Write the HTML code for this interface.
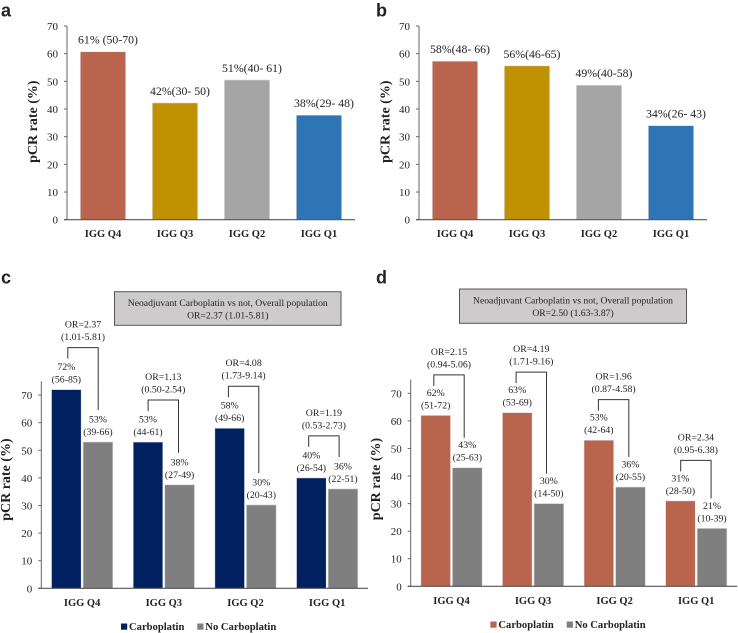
<!DOCTYPE html>
<html lang="en">
<head>
<meta charset="utf-8">
<title>pCR rate by IGG quartile</title>
<style>
html,body{margin:0;padding:0;background:#fff;}
#figure{display:block;width:738px;height:633px;}
text{font-family:"Liberation Serif",serif;fill:#222;}
</style>
</head>
<body>
<svg id="figure" xmlns="http://www.w3.org/2000/svg" width="738" height="633" viewBox="0 0 738 633"></svg>
<script>
const categories = ['IGG Q4', 'IGG Q3', 'IGG Q2', 'IGG Q1'];
const ticksAB = [0, 10, 20, 30, 40, 50, 60, 70];
const valuesA = [60.7, 42.2, 50.5, 37.8];
const labelsA = ['61% (50-70)', '42%(30- 50)', '51%(40- 61)', '38%(29- 48)'];
const valuesB = [57.3, 55.6, 48.6, 34];
const labelsB = ['58%(48- 66)', '56%(46-65)', '49%(40-58)', '34%(26- 43)'];
const colorsSingle = ['#b9654e', '#bf9000', '#a5a5a5', '#2e75b6'];
const carboC = [72, 53, 58, 40];
const noCarboC = [53, 37.5, 30.2, 36];
const carboPctC = ['72%', '53%', '58%', '40%'];
const carboCiC = ['(56-85)', '(44-61)', '(49-66)', '(26-54)'];
const noCarboPctC = ['53%', '38%', '30%', '36%'];
const noCarboCiC = ['(39-66)', '(27-49)', '(20-43)', '(22-51)'];
const orC = ['OR=2.37', 'OR=1.13', 'OR=4.08', 'OR=1.19'];
const orCiC = ['(1.01-5.81)', '(0.50-2.54)', '(1.73-9.14)', '(0.53-2.73)'];
const carboD = [62, 63, 53, 31];
const noCarboD = [43, 30, 36, 21];
const carboPctD = ['62%', '63%', '53%', '31%'];
const carboCiD = ['(51-72)', '(53-69)', '(42-64)', '(28-50)'];
const noCarboPctD = ['43%', '30%', '36%', '21%'];
const noCarboCiD = ['(25-63)', '(14-50)', '(20-55)', '(10-39)'];
const orD = ['OR=2.15', 'OR=4.19', 'OR=1.96', 'OR=2.34'];
const orCiD = ['(0.94-5.06)', '(1.71-9.16)', '(0.87-4.58)', '(0.95-6.38)'];
const ticksCD = [0, 10, 20, 30, 40, 50, 60, 70];

const SVG_NS = 'http://www.w3.org/2000/svg';
const root = document.getElementById('figure');

function make(tag, attrs, name, parent) {
  const el = document.createElementNS(SVG_NS, tag);
  for (const k in attrs) el.setAttribute(k, attrs[k]);
  
  
  (parent || root).appendChild(el);
  return el;
}
function label(str, x, y, size, opts, name, parent) {
  const o = opts || {};
  const el = make('text', {
    x: x, y: y,
    'font-size': size,
    'text-anchor': o.anchor || 'middle',
    'font-weight': o.weight || 'normal'
  }, name, parent);
  if (o.rotate) el.setAttribute('transform', 'rotate(-90 ' + x + ' ' + y + ')');
  if (o.family) el.setAttribute('style', 'font-family:' + o.family);
  el.textContent = str;
  return el;
}

function frame(p) {
  const g = make('g', {}, 'panel-' + p.id);
  const y = v => p.y0 - v * p.unit;
  const band = (p.x1 - p.x0) / categories.length;
  const cx = i => p.x0 + band * (i + 0.5);
  label(p.id, p.letterX, p.letterY, 18, {anchor: 'start', weight: 'bold', family: '"Liberation Sans",sans-serif'}, 'panel-letter-' + p.id, g);
  make('line', {x1: p.x0, x2: p.x0, y1: y(p.yMax), y2: p.y0, stroke: '#666', 'stroke-width': 1}, 'y-axis-line', g);
  p.ticks.forEach(t => {
    make('line', {x1: p.x0 - 3, x2: p.x0, y1: y(t), y2: y(t), stroke: '#666', 'stroke-width': 1}, 'y-tick', g);
    label(String(t), p.x0 - 9, y(t) + 4, 11, {anchor: 'end'}, 'y-tick-label', g);
  });
  label('pCR rate (%)', p.titleX, p.titleY, 14, {weight: 'bold', rotate: true}, 'y-axis-title', g);
  categories.forEach((c, i) => {
    label(c, cx(i), p.catY, 10.5, {weight: 'bold'}, 'x-tick-label', g);
  });
  return {g: g, y: y, cx: cx};
}
function finishAxis(p, f) {
  make('line', {x1: p.x0 - 3, x2: p.x1, y1: p.y0, y2: p.y0, stroke: '#555', 'stroke-width': 1.2}, 'x-axis-line', f.g);
}

function singlePanel(p, values, labels) {
  const f = frame(p);
  values.forEach((v, i) => {
    make('rect', {x: f.cx(i) - 22.7, y: f.y(v), width: 45.4, height: v * p.unit, fill: colorsSingle[i], stroke: '#e9e3df', 'stroke-width': 0.6}, 'bar-' + categories[i].toLowerCase().replace(' ', '-'), f.g);
    label(labels[i], f.cx(i) + 5, f.y(v) - 8, 11.8, {}, 'bar-value-label', f.g);
  });
  finishAxis(p, f);
}

function pairedPanel(p, d) {
  const f = frame(p);
  const w = 29.7, off = 15.8;
  categories.forEach((c, i) => {
    const a = d.carbo[i], b = d.noCarbo[i];
    const xa = f.cx(i) - off, xb = f.cx(i) + off;
    make('rect', {x: xa - w / 2, y: f.y(a), width: w, height: a * p.unit, fill: p.color, stroke: '#e8e8ec', 'stroke-width': 0.6}, 'bar-carboplatin', f.g);
    make('rect', {x: xb - w / 2, y: f.y(b), width: w, height: b * p.unit, fill: '#7f7f7f', stroke: '#d8d8d8', 'stroke-width': 0.6}, 'bar-no-carboplatin', f.g);
    label(d.carboPct[i], xa, f.y(a) - 19.5, 9.8, {}, 'carboplatin-percent-label', f.g);
    label(d.carboCi[i], xa, f.y(a) - 7, 9.8, {}, 'carboplatin-ci-label', f.g);
    label(d.noCarboPct[i], xb, f.y(b) - 19.5, 9.8, {}, 'no-carboplatin-percent-label', f.g);
    label(d.noCarboCi[i], xb, f.y(b) - 7, 9.8, {}, 'no-carboplatin-ci-label', f.g);
    const bc = p.bracketStart + i * p.bracketStep;
    const top = f.y(a) - p.bracketTop;
    const pts = [[bc - 15.2, f.y(a) - p.bracketLeft], [bc - 15.2, top], [bc + 15.2, top], [bc + 15.2, f.y(b) - p.bracketRight]];
    make('polyline', {points: pts.map(q => q.join(',')).join(' '), fill: 'none', stroke: '#333', 'stroke-width': 1}, 'odds-ratio-bracket', f.g);
    label(d.or[i], bc, top - 20, 9.8, {}, 'odds-ratio-label', f.g);
    label(d.orCi[i], bc, top - 7.5, 9.8, {}, 'odds-ratio-ci-label', f.g);
  });
  finishAxis(p, f);
  make('rect', {x: p.boxX, y: p.boxY, width: p.boxW, height: p.boxH, fill: '#cdcbcb', stroke: '#555', 'stroke-width': 1}, 'overall-population-box', f.g);
  label('Neoadjuvant Carboplatin vs not, Overall population', p.boxX + p.boxW / 2, p.boxY + 14.5, 9.65, {}, 'overall-box-title', f.g);
  label(d.overall, p.boxX + p.boxW / 2, p.boxY + 27, 9.65, {}, 'overall-box-odds-ratio', f.g);
  make('rect', {x: p.legX1, y: p.legY - 6.5, width: 6.2, height: 6.2, fill: p.color}, 'legend-swatch-carboplatin', f.g);
  label('Carboplatin', p.legX1 + 8, p.legY, 10.6, {anchor: 'start', weight: 'bold'}, 'legend-label-carboplatin', f.g);
  make('rect', {x: p.legX2, y: p.legY - 6.5, width: 6.2, height: 6.2, fill: '#7f7f7f'}, 'legend-swatch-no-carboplatin', f.g);
  label('No Carboplatin', p.legX2 + 8, p.legY, 10.6, {anchor: 'start', weight: 'bold'}, 'legend-label-no-carboplatin', f.g);
}

singlePanel({id: 'a', x0: 67, x1: 355, y0: 219.7, unit: 2.767, yMax: 70, ticks: ticksAB, letterX: 1, letterY: 16.7, titleX: 37, titleY: 121.7, catY: 237}, valuesA, labelsA);
singlePanel({id: 'b', x0: 419, x1: 707, y0: 219.7, unit: 2.767, yMax: 70, ticks: ticksAB, letterX: 376, letterY: 16.7, titleX: 389.7, titleY: 121.7, catY: 237}, valuesB, labelsB);
pairedPanel({id: 'c', x0: 41.3, x1: 368, y0: 588.3, unit: 2.76, yMax: 75, ticks: ticksCD, letterX: 1, letterY: 283.3, titleX: 10, titleY: 479.6, catY: 606, color: '#002060', bracketStart: 83, bracketStep: 80.3, bracketTop: 42, bracketLeft: 31, bracketRight: 32, boxX: 114.5, boxY: 291.7, boxW: 226.5, boxH: 33.6, legX1: 121, legX2: 197.3, legY: 630},
  {carbo: carboC, noCarbo: noCarboC, carboPct: carboPctC, carboCi: carboCiC, noCarboPct: noCarboPctC, noCarboCi: noCarboCiC, or: orC, orCi: orCiC, overall: 'OR=2.37 (1.01-5.81)'});
pairedPanel({id: 'd', x0: 410.7, x1: 737, y0: 586.3, unit: 2.757, yMax: 75, ticks: ticksCD, letterX: 376, letterY: 283.3, titleX: 380, titleY: 479, catY: 604, color: '#b9654e', bracketStart: 449, bracketStep: 82.3, bracketTop: 40.5, bracketLeft: 29.5, bracketRight: 30, boxX: 459.5, boxY: 289, boxW: 227, boxH: 34.3, legX1: 490.4, legX2: 566.7, legY: 628},
  {carbo: carboD, noCarbo: noCarboD, carboPct: carboPctD, carboCi: carboCiD, noCarboPct: noCarboPctD, noCarboCi: noCarboCiD, or: orD, orCi: orCiD, overall: 'OR=2.50 (1.63-3.87)'});
</script>
</body>
</html>
